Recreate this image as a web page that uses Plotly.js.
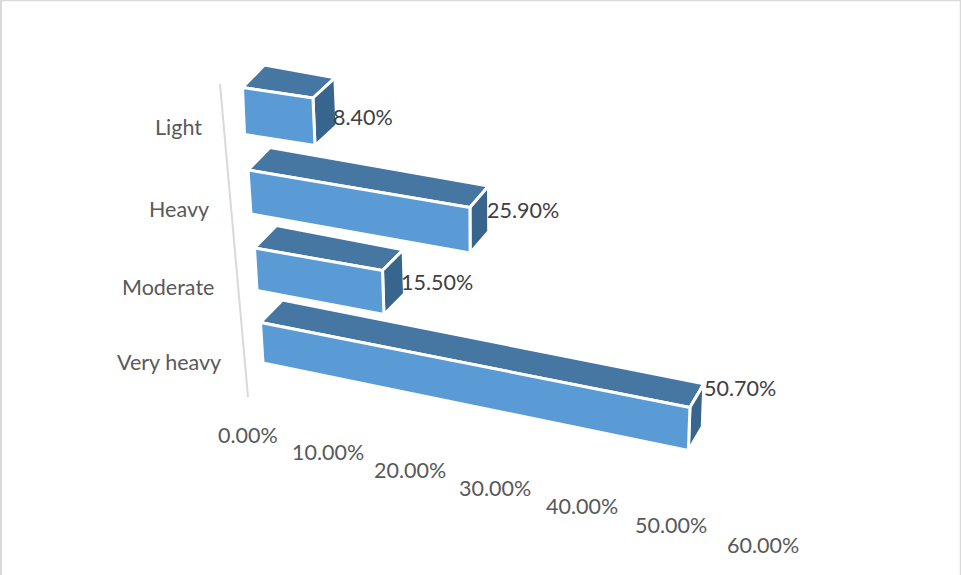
<!DOCTYPE html>
<html>
<head>
<meta charset="utf-8">
<script src="https://cdn.plot.ly/plotly-3.0.1.min.js"></script>
<style>html,body{margin:0;padding:0;background:#fff}#chart{width:961px;height:575px}</style>
</head>
<body>
<div id="chart"></div>
<script>
// Smoking intensity shares, top row first
const categories = ["Light", "Heavy", "Moderate", "Very heavy"];
const shares = [8.4, 25.9, 15.5, 50.7];
const tickValues = [0, 10, 20, 30, 40, 50, 60];
const tickLabels = ["0.00%", "10.00%", "20.00%", "30.00%", "40.00%", "50.00%", "60.00%"];

// Oblique projection of the 3-D bars onto the page: each row has a zero-value
// edge (top and bottom corner) and a per-percent step along its top and bottom.
const rowFrames = [
  {t: [242.5, 87.5], b: [244.5, 134.5], st: [8.39, 1.25],  sb: [8.39, 1.31]},
  {t: [248, 170],    b: [251, 214],     st: [8.57, 1.448], sb: [8.46, 1.506]},
  {t: [254.5, 248],  b: [257, 290.5],   st: [8.26, 1.452], sb: [8.19, 1.548]},
  {t: [260.5, 322.5], b: [263, 363],    st: [8.47, 1.675], sb: [8.39, 1.724]}
];
const labelCentres = [[178, 127], [179, 209], [168, 287], [169, 362]];

const front = "#5b9bd5", topFace = "#4676a2", sideFace = "#38658d";
const frameGrey = "#d9d9d9", tickGrey = "#595959", valueGrey = "#404040";
const labelFont = "Lato, Carlito, sans-serif", labelSize = 21.5;

// The receding edge is longest at the zero end and turns steeper toward the far end
const depthAtZero = [22, -22.5];
const depthAtEnd = v => [23.5 - 0.19 * v, -19.5 - 0.08 * v];
const corner = (o, s, v) => [o[0] + s[0] * v, o[1] + s[1] * v];
const tickPos = v => {
  const x = 248 + 7.9 * v / (1 - 0.00133 * v);
  return [x, 435 + (x - 248) * 0.213];
};

const face = (pts, color) => ({
  type: "scatter", mode: "lines",
  x: pts.map(p => p[0]).concat(pts[0][0]),
  y: pts.map(p => p[1]).concat(pts[0][1]),
  fill: "toself", fillcolor: color,
  line: {color: "#ffffff", width: 3, join: "miter"},
  hoverinfo: "skip", showlegend: false
});

const traces = [];
const annotations = [];
const textAt = (text, x, y, color, anchor) => annotations.push({
  text, x, y, xref: "x", yref: "y", showarrow: false, xanchor: anchor, yanchor: "middle",
  borderpad: 0, font: {family: labelFont, size: labelSize, color}
});

shares.forEach((v, i) => {
  const f = rowFrames[i], d = depthAtEnd(v);
  const push = (p, o) => [p[0] + o[0], p[1] + o[1]];
  const tl = f.t, bl = f.b, tr = corner(f.t, f.st, v), br = corner(f.b, f.sb, v);
  traces.push(face([tl, tr, push(tr, d), push(tl, depthAtZero)], topFace));
  traces.push(face([tr, br, push(br, d), push(tr, d)], sideFace));
  traces.push(face([tl, tr, br, bl], front));
  const end = push([(tr[0] + br[0]) / 2, (tr[1] + br[1]) / 2], d);
  textAt(v.toFixed(2) + "%", end[0] - 5 + 0.1 * v, end[1] + 22 - 0.78 * v, valueGrey, "left");
  textAt(categories[i], labelCentres[i][0], labelCentres[i][1], tickGrey, "center");
});

tickValues.forEach((v, i) => {
  const p = tickPos(v);
  textAt(tickLabels[i], p[0], p[1], tickGrey, "center");
});

// Category axis line leaning along the bars' zero edge
traces.unshift({
  type: "scatter", mode: "lines", x: [220, 248], y: [84, 397],
  line: {color: frameGrey, width: 2}, hoverinfo: "skip", showlegend: false
});

const border = (x0, y0, x1, y1, width) => ({
  type: "line", xref: "paper", yref: "paper", x0, y0, x1, y1,
  line: {color: frameGrey, width}
});

Plotly.newPlot("chart", traces, {
  width: 961, height: 575,
  margin: {l: 0, r: 0, t: 0, b: 0},
  paper_bgcolor: "#ffffff", plot_bgcolor: "#ffffff",
  xaxis: {range: [0, 961], visible: false, fixedrange: true},
  yaxis: {range: [575, 0], visible: false, fixedrange: true},
  annotations,
  shapes: [
    border(0.001, 0, 0.001, 1, 2),
    border(0, 0.999, 1, 0.999, 1.5),
    border(0.9995, 0, 0.9995, 1, 1.5)
  ]
}, {displayModeBar: false, staticPlot: true});
</script>
</body>
</html>
